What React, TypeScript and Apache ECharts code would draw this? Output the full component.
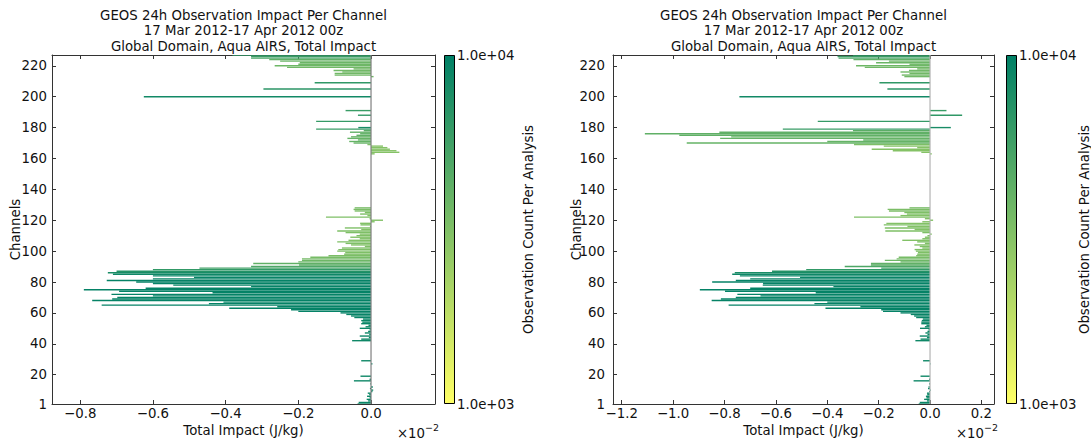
import React, { useEffect, useRef } from "react";
import * as echarts from "echarts";

// AIRS channel indices that carry data
const channels = [
  1, 2, 3, 4, 5, 6, 7, 8, 9, 10, 11, 12, 14, 16, 17, 19, 27, 29,
  42, 43, 44, 45, 46, 47, 48, 49, 50, 51, 52, 53, 54, 55, 56, 57, 58, 59,
  60, 61, 62, 63, 64, 65, 66, 67, 68, 69, 70, 71, 72, 73, 74, 75, 76, 77, 78, 79,
  80, 81, 82, 83, 84, 85, 86, 87, 88, 89, 90, 91, 92, 93, 94, 95, 96, 97, 98, 99,
  100, 101, 102, 103, 104, 105, 106, 107, 108, 109, 110, 111, 112, 113, 114, 115, 116, 117, 118, 119,
  120, 121, 122, 123, 124, 125, 126, 127, 128,
  163, 164, 165, 166, 167, 168, 169, 170, 171, 172, 173, 174, 175, 176, 177, 178, 179, 180,
  184, 188, 191, 200, 205, 209,
  213, 214, 215, 216, 217, 218, 219, 220, 221, 222, 223, 224, 225, 226, 227,
];

// Total impact (x 1e-2 J/kg), left panel
const impactA = [
  -0.037, -0.034, -0.008, -0.012, -0.004, -0.011, -0.005, -0.009, 0.004, 0.006, -0.003, 0.005, -0.002, -0.047, -0.004, -0.029, 0.004, -0.027,
  -0.052, -0.027, -0.006, -0.031, -0.005, -0.017, -0.008, -0.004, -0.031, -0.015, -0.007, -0.027, -0.024, -0.027, -0.022, -0.046, -0.055, -0.068,
  -0.084, -0.2, -0.22, -0.39, -0.258, -0.741, -0.446, -0.406, -0.767, -0.712, -0.698, -0.6, -0.714, -0.436, -0.693, -0.79, -0.62, -0.33, -0.544, -0.6,
  -0.646, -0.727, -0.6, -0.487, -0.6, -0.71, -0.724, -0.7, -0.6, -0.472, -0.33, -0.198, -0.324, -0.2, -0.19, -0.19, -0.167, -0.117, -0.074, -0.071,
  -0.093, -0.09, -0.08, -0.017, -0.055, -0.07, -0.093, -0.062, -0.031, -0.057, -0.04, -0.031, -0.07, -0.093, -0.027, -0.072, -0.003, -0.029, -0.03, 0.01,
  0.033, -0.004, -0.124, -0.01, -0.03, -0.017, -0.045, -0.048, -0.045,
  0.01, 0.078, 0.07, 0.052, 0.045, 0.033, -0.01, -0.048, -0.06, -0.036, -0.065, -0.055, -0.04, -0.03, -0.058, -0.02, -0.151, -0.035,
  -0.151, -0.036, -0.07, -0.625, -0.296, -0.155,
  0.007, -0.1, -0.1, -0.079, -0.103, -0.048, -0.231, -0.265, -0.2, -0.196, -0.25, -0.28, -0.33, -0.33, -0.381,
];

// Total impact (x 1e-2 J/kg), right panel
const impactB = [
  -0.044, -0.04, -0.012, -0.023, -0.014, -0.016, -0.011, -0.012, -0.004, 0.003, -0.008, -0.006, -0.004, -0.064, -0.004, -0.037, 0.002, -0.027,
  -0.057, -0.037, -0.012, -0.04, -0.01, -0.018, -0.01, -0.006, -0.039, -0.02, -0.014, -0.034, -0.034, -0.032, -0.028, -0.054, -0.062, -0.075,
  -0.115, -0.183, -0.19, -0.407, -0.271, -0.784, -0.45, -0.4, -0.85, -0.814, -0.756, -0.66, -0.75, -0.445, -0.798, -0.896, -0.7, -0.376, -0.651, -0.65,
  -0.848, -0.756, -0.7, -0.506, -0.74, -0.77, -0.76, -0.615, -0.482, -0.19, -0.332, -0.23, -0.23, -0.115, -0.176, -0.13, -0.122, -0.054, -0.05, -0.047,
  -0.055, -0.06, -0.03, -0.04, -0.061, -0.02, -0.05, -0.108, -0.03, -0.02, -0.01, 0.007, -0.03, -0.174, -0.06, -0.176, -0.088, -0.18, -0.17, -0.03,
  0.012, -0.02, -0.296, -0.115, -0.09, -0.1, -0.16, -0.165, -0.08,
  0.007, -0.034, -0.145, -0.227, -0.05, -0.18, -0.296, -0.947, -0.4, -0.26, -0.817, -0.774, -0.976, -1.11, -0.82, -0.3, -0.573, 0.081,
  -0.437, 0.125, 0.064, -0.742, -0.166, -0.197,
  -0.1, -0.11, -0.08, -0.115, -0.082, -0.05, -0.254, -0.288, -0.08, -0.21, -0.16, -0.298, -0.356, -0.36, -0.3,
];

// Observation count per analysis, per channel
const obsCount = [
  9200, 9200, 9000, 9000, 9000, 9000, 9000, 9000, 9000, 9000, 9000, 9000, 9000, 8800, 9000, 8800, 9000, 8800,
  8800, 9000, 9000, 9000, 9000, 9000, 9000, 9000, 9000, 9000, 9000, 9200, 9200, 9200, 9200, 9300, 9300, 9400,
  9600, 9600, 9600, 9600, 9600, 9600, 9600, 9600, 9600, 9600, 9600, 9600, 9600, 9600, 9600, 9600, 9600, 9600, 9600, 9600,
  9600, 9600, 9500, 9400, 9200, 8800, 8000, 7200, 6400, 5600, 5000, 4500, 4200, 3900, 3700, 3500, 3400, 3300, 3200, 3200,
  3200, 3200, 3200, 3200, 3100, 3200, 3200, 3100, 3200, 3100, 3200, 3100, 3200, 3200, 3100, 3200, 3100, 3200, 3100, 3100,
  3100, 3100, 3200, 3100, 3200, 3200, 3300, 3300, 3400,
  3000, 3000, 3000, 3000, 3000, 3000, 3200, 4000, 4000, 4000, 4000, 4000, 4200, 4200, 4200, 4400, 6000, 8000,
  6200, 6500, 6000, 8500, 6800, 6500,
  3600, 3600, 3600, 3600, 3600, 3600, 3600, 3700, 3700, 3800, 3800, 4200, 5200, 6000, 6500,
];

const channelTicks = [1, 20, 40, 60, 80, 100, 120, 140, 160, 180, 200, 220];
const channelRange = [1, 227];
const impactTicksA = [-0.8, -0.6, -0.4, -0.2, 0.0];
const impactTicksB = [-1.2, -1.0, -0.8, -0.6, -0.4, -0.2, 0.0, 0.2];
const impactRangeA = [-0.8776, 0.176];
const impactRangeB = [-1.234, 0.249];
const countRange = [1e3, 1e4];
const countLabels = ["1.0e+04", "1.0e+03"];

const titleLines = [
  "GEOS 24h Observation Impact Per Channel",
  "17 Mar 2012-17 Apr 2012 00z",
  "Global Domain, Aqua AIRS, Total Impact",
];
const xAxisTitle = "Total Impact (J/kg)";
const yAxisTitle = "Channels";
const colorbarTitle = "Observation Count Per Analysis";

const FONT = "DejaVu Sans";
const FS = 13.3;
const INK = "#111";
const SPINE = "#333";
const BAR_HEIGHT = 0.9;
const CMAP = ["#ffff66", "#008066"]; // summer_r, low -> high

const PLOT_TOP = 55;
const PLOT_H = 349;
const panels = [
  { left: 52, width: 383, cbX: 444, cbTitleX: 528, yLabelGap: 5, range: impactRangeA, ticks: impactTicksA, values: impactA, zeroColor: "#808080" },
  { left: 613, width: 381, cbX: 1006, cbTitleX: 1084, yLabelGap: 8, range: impactRangeB, ticks: impactTicksB, values: impactB, zeroColor: "#b4b4b4" },
];

const fmtImpact = (v: number) => {
  const s = Math.abs(v).toFixed(1);
  return v < -1e-9 ? "\u2212" + s : s;
};

const renderBar = (params: any, api: any) => {
  const v = api.value(0);
  const ch = api.value(1);
  const a = api.coord([0, ch + BAR_HEIGHT / 2]);
  const b = api.coord([v, ch - BAR_HEIGHT / 2]);
  const cs = params.coordSys;
  const shape = echarts.graphic.clipRectByRect(
    { x: Math.min(a[0], b[0]), y: a[1], width: Math.abs(b[0] - a[0]), height: b[1] - a[1] },
    { x: cs.x, y: cs.y, width: cs.width, height: cs.height }
  );
  if (!shape) return null;
  return { type: "rect", shape, style: { fill: api.visual("color") } };
};

function buildOption() {
  const grids: any[] = [];
  const xAxes: any[] = [];
  const yAxes: any[] = [];
  const barSeries: any[] = [];
  const lineSeries: any[] = [];
  const graphics: any[] = [];

  panels.forEach((p, i) => {
    grids.push({ left: p.left, top: PLOT_TOP, width: p.width, height: PLOT_H, containLabel: false });

    const xBase = {
      gridIndex: i,
      type: "value",
      min: p.range[0],
      max: p.range[1],
      splitLine: { show: false },
      axisLine: { show: true, onZero: false, lineStyle: { color: SPINE, width: 1 } },
      axisTick: { show: true, inside: true, length: 4, customValues: p.ticks, lineStyle: { color: SPINE } },
    };
    xAxes.push({
      ...xBase,
      position: "bottom",
      axisLabel: { customValues: p.ticks, formatter: fmtImpact, margin: 3, fontFamily: FONT, fontSize: FS, color: INK },
    });
    xAxes.push({ ...xBase, position: "top", axisLabel: { show: false } });

    const yBase = {
      gridIndex: i,
      type: "value",
      min: channelRange[0],
      max: channelRange[1],
      splitLine: { show: false },
      axisLine: { show: true, onZero: false, lineStyle: { color: SPINE, width: 1 } },
      axisTick: { show: true, inside: true, length: 4, customValues: channelTicks, lineStyle: { color: SPINE } },
    };
    yAxes.push({
      ...yBase,
      position: "left",
      axisLabel: { customValues: channelTicks, margin: p.yLabelGap, fontFamily: FONT, fontSize: FS, color: INK },
    });
    yAxes.push({ ...yBase, position: "right", axisLabel: { show: false } });

    barSeries.push({
      type: "custom",
      xAxisIndex: i * 2,
      yAxisIndex: i * 2,
      clip: true,
      encode: { x: 0, y: 1 },
      data: channels.map((ch, k) => [p.values[k], ch, Math.log10(obsCount[k])]),
      renderItem: renderBar,
      z: 3,
    });
    lineSeries.push({
      type: "line",
      xAxisIndex: i * 2,
      yAxisIndex: i * 2,
      data: [
        [0, channelRange[0]],
        [0, channelRange[1]],
      ],
      symbol: "none",
      silent: true,
      lineStyle: { color: p.zeroColor, width: 1.2 },
      z: 4,
    });

    const cx = p.left + p.width / 2;
    const cy = PLOT_TOP + PLOT_H / 2;
    const bottom = PLOT_TOP + PLOT_H;
    const right = p.left + p.width;
    const txt = (x: number, y: number, text: string, extra: any = {}, style: any = {}) => ({
      type: "text",
      x,
      y,
      silent: true,
      ...extra,
      style: { text, fontFamily: FONT, fontSize: FS, fill: INK, align: "center", verticalAlign: "middle", ...style },
    });

    titleLines.forEach((t, k) => graphics.push(txt(cx, 15 + k * 15.6, t)));
    graphics.push(txt(cx, 430, xAxisTitle));
    graphics.push(txt(p.left - 37, cy, yAxisTitle, { rotation: Math.PI / 2 }));
    // axis offset text  x10^-2
    graphics.push(txt(right - 10, 433, "\u00d710", {}, { align: "right" }));
    graphics.push(txt(right - 10, 427, "\u22122", {}, { align: "left", fontSize: 9.5 }));

    // colour bar
    graphics.push({
      type: "rect",
      silent: true,
      shape: { x: p.cbX + 0.5, y: PLOT_TOP + 0.5, width: 10, height: PLOT_H - 1 },
      style: {
        fill: new echarts.graphic.LinearGradient(0, 0, 0, 1, [
          { offset: 0, color: CMAP[1] },
          { offset: 1, color: CMAP[0] },
        ]),
        stroke: "#000",
        lineWidth: 1,
      },
    });
    graphics.push(txt(p.cbX + 13, PLOT_TOP, countLabels[0], {}, { align: "left" }));
    graphics.push(txt(p.cbX + 13, bottom, countLabels[1], {}, { align: "left" }));
    graphics.push(txt(p.cbTitleX, cy, colorbarTitle, { rotation: Math.PI / 2 }));
  });

  return {
    animation: false,
    backgroundColor: "#ffffff",
    grid: grids,
    xAxis: xAxes,
    yAxis: yAxes,
    visualMap: {
      show: false,
      type: "continuous",
      seriesIndex: [0, 1],
      dimension: 2,
      min: Math.log10(countRange[0]),
      max: Math.log10(countRange[1]),
      inRange: { color: CMAP },
    },
    series: [...barSeries, ...lineSeries],
    graphic: graphics,
  };
}

export default function App() {
  const ref = useRef<HTMLDivElement>(null);
  useEffect(() => {
    if (!ref.current) return;
    const chart = echarts.init(ref.current, undefined, { renderer: "svg" });
    chart.setOption(buildOption() as any);
    return () => chart.dispose();
  }, []);
  return (
    <div
      ref={ref}
      style={{ position: "absolute", left: 0, top: 0, width: 1091, height: 439, background: "#fff" }}
    />
  );
}
